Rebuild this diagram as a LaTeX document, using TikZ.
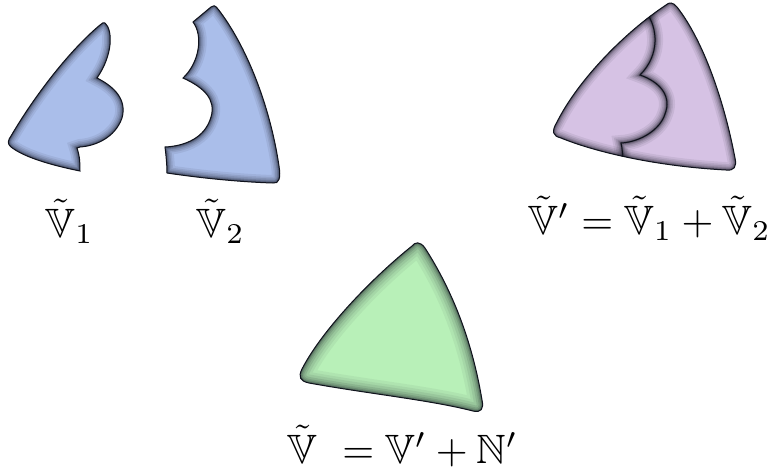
\documentclass[tikz,border=0pt]{standalone}
\usepackage{amssymb}
\definecolor{bluefill}{RGB}{170,190,234}
\definecolor{purplefill}{RGB}{214,194,228}
\definecolor{greenfill}{RGB}{184,240,184}
\definecolor{rimcol}{RGB}{15,18,28}
\tikzset{
  lbl/.style={inner sep=0pt, scale=4.1, anchor=base west},
  outline/.style={draw=rimcol, line width=1pt},
}
\def\shapeVone{(105,23) .. controls (113,30) and (113,55) .. (97,78)
  .. controls (115,87) and (127,100) .. (122,118)
  .. controls (115,138) and (95,146) .. (80,147)
  -- (77,148) .. controls (80,157) and (80,164) .. (80,171)
  .. controls (55,166) and (25,158) .. (11,147)
  .. controls (7,144) and (8,140) .. (11,136)
  .. controls (35,95) and (70,50) .. (100,25)
  .. controls (102,23) and (104,22) .. (105,23) -- cycle}
\def\shapeVtwo{(211,7) -- (193,22)
  .. controls (203,35) and (200,62) .. (183,78)
  .. controls (205,88) and (216,100) .. (211,117)
  .. controls (205,138) and (185,146) .. (165,147)
  .. controls (166,155) and (167,165) .. (167,173)
  .. controls (200,178) and (240,182) .. (273,183)
  .. controls (279,184) and (281,178) .. (279,166)
  .. controls (270,105) and (246,45) .. (218,9)
  .. controls (215,5) and (213,5) .. (211,7) -- cycle}
\def\shapeVp{(666,5) .. controls (625,32) and (578,80) .. (557,122)
  .. controls (551,132) and (553,136) .. (561,138)
  .. controls (590,150) and (650,166) .. (726,170)
  .. controls (734,171) and (737,167) .. (735,158)
  .. controls (724,100) and (703,40) .. (677,7)
  .. controls (673,2) and (669,2) .. (666,5) -- cycle}
\def\divider{(646,12) .. controls (658,28) and (660,55) .. (640,75)
  .. controls (660,82) and (672,96) .. (665,114)
  .. controls (660,130) and (640,142) .. (621,143)
  .. controls (623,152) and (623,160) .. (623,178)}
\def\shapeV{(412,246) .. controls (372,278) and (322,330) .. (302,369)
  .. controls (298,377) and (300,381) .. (309,383)
  .. controls (370,394) and (430,400) .. (473,411)
  .. controls (481,413) and (484,409) .. (482,400)
  .. controls (472,340) and (452,290) .. (425,248)
  .. controls (420,241) and (415,242) .. (412,246) -- cycle}
\def\rimthin{16/0.07,12/0.09,9/0.11,6/0.14,4/0.18,2/0.3}
\def\rimwide{28/0.05,22/0.06,17/0.08,12/0.1,8/0.12,5/0.15,2.5/0.25}
\newcommand{\glowfill}[3]{%
  \begin{scope}
    \fill[#2] #1;
    \clip #1;
    \foreach \w/\o in #3 {\draw[line width=\w pt, draw=rimcol, opacity=\o] #1;}
  \end{scope}
  \draw[outline] #1;}
\begin{document}
\begin{tikzpicture}[x=1pt,y=-1pt]
  \useasboundingbox (0,0) rectangle (772,475);
  % V1 and V2
  \glowfill{\shapeVone}{bluefill}{\rimthin}
  \glowfill{\shapeVtwo}{bluefill}{\rimthin}
  % V'
  \glowfill{\shapeVp}{purplefill}{\rimthin}
  \begin{scope}
    \clip \shapeVp;
    \foreach \w/\o in \rimthin {\draw[line width=\w pt, draw=rimcol, opacity=\o] \divider;}
    \draw[outline] \divider;
  \end{scope}
  % V
  \glowfill{\shapeV}{greenfill}{\rimwide}
  % labels
  \node[lbl] (l1) at (45,237) {$\tilde{\mathbb{V}}_1$};
  \node[lbl] (l2) at (196,237) {$\tilde{\mathbb{V}}_2$};
  \node[lbl] (l3) at (528,234) {$\tilde{\mathbb{V}}'=\tilde{\mathbb{V}}_1+\tilde{\mathbb{V}}_2$};
  \node[lbl] (l4) at (287,463) {$\tilde{\mathbb{V}}\ = \mathbb{V}'+\mathbb{N}'$};
\end{tikzpicture}
\end{document}
